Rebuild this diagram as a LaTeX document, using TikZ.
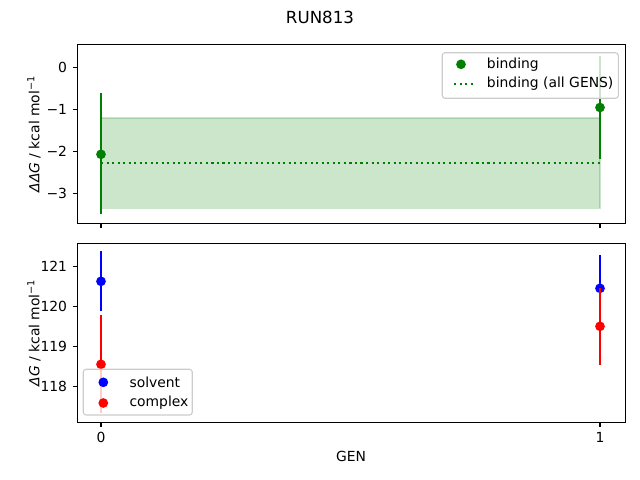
\documentclass[tikz,border=0pt]{standalone}
\usepackage{fontspec}
\setmainfont{DejaVu Sans}
\definecolor{mgreen}{HTML}{008000}
\definecolor{mblue}{HTML}{0000FF}
\definecolor{mred}{HTML}{FF0000}
\begin{document}
\begin{tikzpicture}[x=0.72pt,y=-0.72pt,
  spine/.style={line width=0.8pt},
  tk/.style={line width=0.8pt},
  ebar/.style={line width=1.5pt},
  lbl/.style={font=\fontsize{10}{12}\selectfont, inner sep=0pt},
  legbox/.style={draw=black!20, line width=0.8pt, rounded corners=2pt, fill=white, fill opacity=0.8},
  dotline/.style={line width=1.5pt, dash pattern=on 1.5pt off 2.475pt},
  ]
\useasboundingbox (0,0) rectangle (640,480);
\def\mr{3.5pt}
% title
\node[font=\fontsize{12}{14}\selectfont, inner sep=0pt] (title) at (320,17) {RUN813};

% ===== top axes =====
\path[fill=mgreen, fill opacity=0.2, draw=mgreen, draw opacity=0.2, line width=1pt] (101,118) rectangle (600,208.3);
\draw[mgreen, dotline] (101,162.7) -- (600,162.7);
\draw[mgreen, ebar] (101,93.3) -- (101,214);
\fill[mgreen] (101,154.3) circle[radius=\mr];
\draw[mgreen, ebar] (600,55.5) -- (600,159.3);
\fill[mgreen] (600,107.5) circle[radius=\mr];
\draw[spine] (77.5,44.5) rectangle (625.5,223.5);
\foreach \y/\t in {67.3/0, 109.5/−1, 151.7/−2, 193.9/−3} {
  \draw[tk] (77.5,\y) -- (72.64,\y);
  \node[lbl, anchor=east] at (67.3,\y) {\t};
}
\foreach \x in {101,600} { \draw[tk] (\x,223.5) -- (\x,228.36); }
\node[lbl, rotate=90, anchor=base] (ylabtop) at (39.3,134) {{\itshape ΔΔG} / kcal mol\textsuperscript{−1}};
% legend top
\path[legbox] (442.3,52.7) rectangle (618.3,98.3);
\fill[mgreen] (461,64.3) circle[radius=\mr];
\node[lbl, anchor=west] (lg1) at (486.7,64.3) {binding};
\draw[mgreen, dotline] (454.3,84) -- (474.3,84);
\node[lbl, anchor=west] (lg2) at (486.7,84) {binding (all GENS)};

% ===== bottom axes =====
\draw[mblue, ebar] (101,251) -- (101,310.7);
\fill[mblue] (101,281.3) circle[radius=\mr];
\draw[mblue, ebar] (600,255) -- (600,321.6);
\fill[mblue] (600,288.3) circle[radius=\mr];
\draw[mred, ebar] (101,315.3) -- (101,413.3);
\fill[mred] (101,364.3) circle[radius=\mr];
\draw[mred, ebar] (600,288.3) -- (600,364.7);
\fill[mred] (600,326.3) circle[radius=\mr];
\draw[spine] (77.5,243.5) rectangle (625.5,422.5);
\foreach \y/\t in {266.7/121, 306.5/120, 346.3/119, 386.1/118} {
  \draw[tk] (77.5,\y) -- (72.64,\y);
  \node[lbl, anchor=east] at (67.3,\y) {\t};
}
\foreach \x/\t in {101/0, 600/1} {
  \draw[tk] (\x,422.5) -- (\x,427.36);
  \node[lbl, anchor=north] at (\x,432) {\t};
}
\node[lbl] (xlab) at (351,456) {GEN};
\node[lbl, rotate=90, anchor=base] (ylabbot) at (39.3,332.8) {{\itshape ΔG} / kcal mol\textsuperscript{−1}};
% legend bottom
\path[legbox] (83.3,369.3) rectangle (192.3,415);
\fill[mblue] (103.3,382.3) circle[radius=\mr];
\node[lbl, anchor=west] (lg3) at (129.3,382.3) {solvent};
\fill[mred] (103.3,403) circle[radius=\mr];
\node[lbl, anchor=west] (lg4) at (129.3,403) {complex};
\end{tikzpicture}
\end{document}
